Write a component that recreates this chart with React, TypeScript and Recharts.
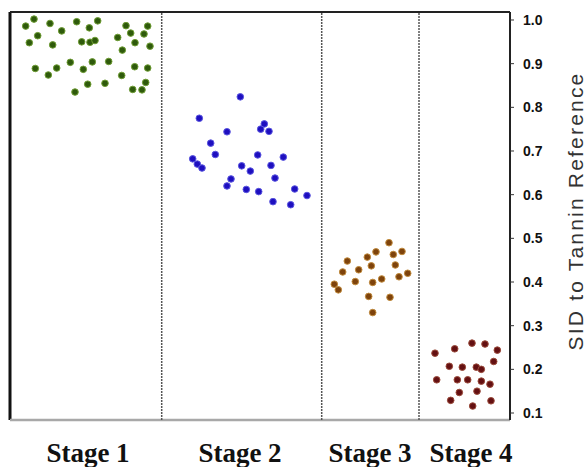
import {
  ScatterChart,
  Scatter,
  XAxis,
  YAxis,
  ReferenceLine,
  Label,
} from "recharts";

// [position across the panel, SID value]
const stage1Points: [number, number][] = [
  [15.7, 0.986], [24, 1.002], [40, 0.992], [51.7, 0.975], [66.7, 0.996],
  [79.3, 0.982], [87.7, 0.998], [116, 0.987], [120.7, 0.97], [137.7, 0.986],
  [134, 0.968], [27.7, 0.964], [19.3, 0.948], [42.7, 0.943], [71.7, 0.95],
  [80, 0.949], [85, 0.953], [107.7, 0.96], [125, 0.948], [140, 0.94],
  [112.3, 0.931], [25.3, 0.889], [38.3, 0.874], [46.7, 0.89], [60.3, 0.903],
  [73.3, 0.887], [82.3, 0.904], [98.7, 0.905], [111.7, 0.873], [124.7, 0.893],
  [137.7, 0.89], [77.7, 0.853], [95, 0.855], [65, 0.835], [135.7, 0.857],
  [122.7, 0.841], [132, 0.84],
];

const stage2Points: [number, number][] = [
  [230.3, 0.824], [189.3, 0.775], [217, 0.744], [254.3, 0.762], [250.7, 0.75],
  [259, 0.745], [200.7, 0.718], [205.3, 0.692], [182.7, 0.682], [187.3, 0.67],
  [192, 0.661], [247.7, 0.691], [273.3, 0.686], [231.7, 0.666], [240.3, 0.654],
  [261, 0.667], [265, 0.638], [221, 0.636], [217, 0.62], [236.3, 0.612],
  [248.7, 0.607], [284.7, 0.613], [297, 0.598], [263, 0.584], [280.7, 0.577],
];

const stage3Points: [number, number][] = [
  [379, 0.49], [366, 0.469], [383.3, 0.463], [392, 0.47], [357.3, 0.457],
  [337.3, 0.448], [361.3, 0.437], [385.3, 0.439], [348.7, 0.428], [332.7, 0.423],
  [397.7, 0.42], [389, 0.412], [371.7, 0.407], [362.7, 0.399], [345.3, 0.401],
  [324.3, 0.395], [328.3, 0.382], [358.7, 0.367], [380, 0.365], [362.7, 0.33],
];

const stage4Points: [number, number][] = [
  [425, 0.237], [444.7, 0.247], [462, 0.26], [475, 0.258], [487.3, 0.244],
  [483.7, 0.218], [439.3, 0.207], [452.3, 0.205], [466.3, 0.205], [471.3, 0.2],
  [426.7, 0.176], [447.3, 0.176], [457.7, 0.176], [471.3, 0.173], [480, 0.166],
  [449.3, 0.147], [467, 0.15], [440.7, 0.129], [481, 0.128], [462.7, 0.116],
];

const stageNames = ["Stage 1", "Stage 2", "Stage 3", "Stage 4"];
const stageCenters = [78, 230, 360, 461];
const stageDividers = [151.7, 311.7, 409];
const yTicks = [0.1, 0.2, 0.3, 0.4, 0.5, 0.6, 0.7, 0.8, 0.9, 1.0];

const X_DOMAIN: [number, number] = [0, 500];
const Y_DOMAIN: [number, number] = [0.084, 1.0183];

const series = [
  { name: "Stage 1", points: stage1Points, fill: "#2f5a0c", halo: "#6f9d34" },
  { name: "Stage 2", points: stage2Points, fill: "#1e0fbf", halo: "#5a55e0" },
  { name: "Stage 3", points: stage3Points, fill: "#7e430c", halo: "#c08a3c" },
  { name: "Stage 4", points: stage4Points, fill: "#641012", halo: "#9a4a3a" },
];

function StageTick(props: any) {
  const { x, y, payload } = props;
  const idx = stageCenters.indexOf(payload.value);
  return (
    <text
      x={x}
      y={y + 42}
      textAnchor="middle"
      fontFamily="'Liberation Serif', 'Times New Roman', serif"
      fontWeight="bold"
      fontSize={27}
      fill="#111"
    >
      {stageNames[idx] ?? ""}
    </text>
  );
}

function YTitle(props: any) {
  const vb = props.viewBox ?? { x: 510, y: 12, width: 77, height: 408 };
  const cx = vb.x + vb.width - 12;
  const cy = vb.y + vb.height / 2 - 5;
  return (
    <text
      x={cx}
      y={cy}
      transform={`rotate(-90, ${cx}, ${cy})`}
      textAnchor="middle"
      dominantBaseline="central"
      fontFamily="'Liberation Sans', Arial, sans-serif"
      fontSize={21}
      letterSpacing={2.2}
      fill="#333"
    >
      SID to Tannin Reference
    </text>
  );
}

export default function App() {
  return (
    <div style={{ position: "absolute", left: 0, top: 0, width: 587, height: 467, background: "#fff" }}>
      <ScatterChart
        width={587}
        height={467}
        margin={{ top: 12, left: 10, right: 0, bottom: 0 }}
      >
        <XAxis
          type="number"
          dataKey="x"
          domain={X_DOMAIN}
          ticks={stageCenters}
          axisLine={false}
          tickLine={false}
          tickSize={0}
          tickMargin={0}
          height={47}
          interval={0}
          tick={<StageTick />}
        />
        <YAxis
          type="number"
          dataKey="y"
          orientation="right"
          domain={Y_DOMAIN}
          ticks={yTicks}
          allowDataOverflow
          width={77}
          axisLine={{ stroke: "#222", strokeWidth: 2 }}
          tickLine={{ stroke: "#333" }}
          tickSize={4}
          tickMargin={9}
          tick={{ fontFamily: "'Liberation Sans', Arial, sans-serif", fontSize: 14, fontWeight: "bold", fill: "#111", textAnchor: "start" }}
          tickFormatter={(v: number) => v.toFixed(1)}
        >
          <Label content={<YTitle />} />
        </YAxis>

        <ReferenceLine x={X_DOMAIN[0]} stroke="#111" strokeWidth={3} />
        <ReferenceLine y={Y_DOMAIN[1]} stroke="#222" strokeWidth={2} />
        <ReferenceLine y={Y_DOMAIN[0]} stroke="#a8a8a8" strokeWidth={2.5} />
        {stageDividers.map((d) => (
          <ReferenceLine key={d} x={d} stroke="#555" strokeWidth={1.5} strokeDasharray="2 1" />
        ))}

        {series.map((s) => (
          <Scatter
            key={s.name}
            name={s.name}
            data={s.points.map(([x, y]) => ({ x, y }))}
            isAnimationActive={false}
            shape={(p: any) => (
              <circle cx={p.cx} cy={p.cy} r={3.3} fill={s.fill} stroke={s.halo} strokeWidth={1} />
            )}
          />
        ))}
      </ScatterChart>
    </div>
  );
}
